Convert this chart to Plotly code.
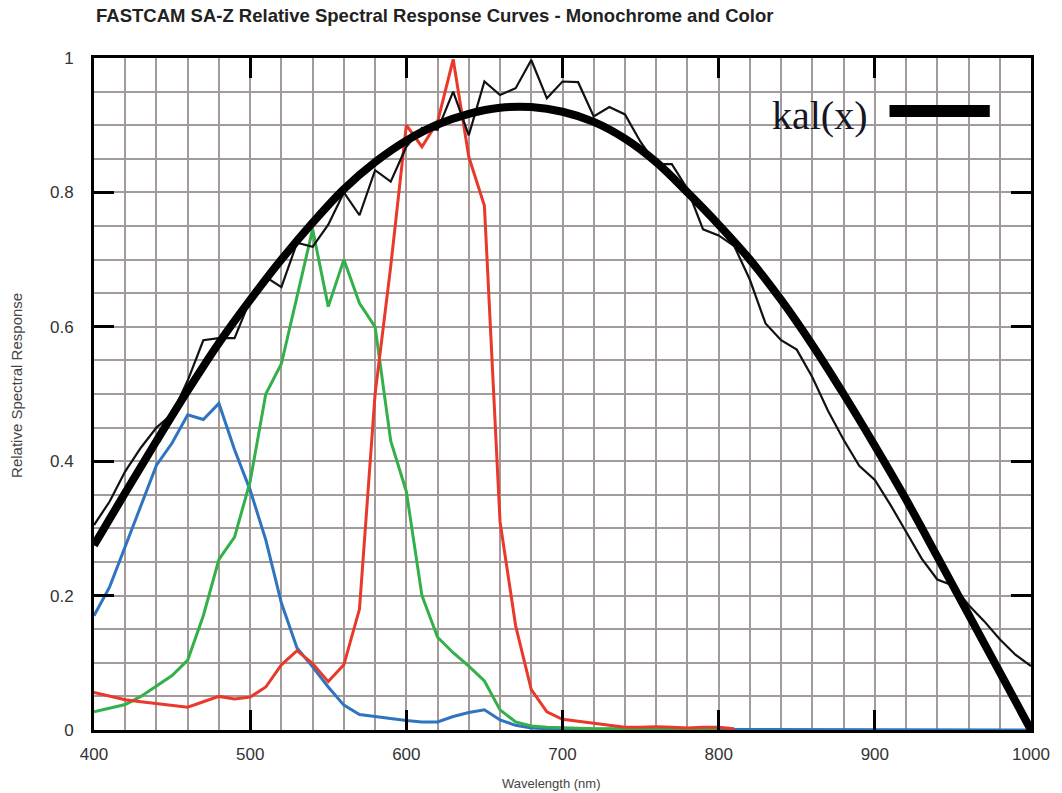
import plotly.graph_objects as go

# wavelength grid (nm)
wl = list(range(400, 1001, 10))
wl_fit = list(range(400, 1001, 20))

# monochrome response (thin black)
mono = [0.305, 0.34, 0.385, 0.42, 0.45, 0.47, 0.52, 0.58, 0.583, 0.583,
        0.64, 0.674, 0.659, 0.725, 0.719, 0.752, 0.80, 0.766, 0.833, 0.816,
        0.868, 0.896, 0.893, 0.95, 0.885, 0.965, 0.945, 0.955, 0.997, 0.94,
        0.965, 0.964, 0.913, 0.927, 0.916, 0.875, 0.842, 0.842, 0.805, 0.745,
        0.736, 0.72, 0.67, 0.605, 0.58, 0.566, 0.525, 0.475, 0.432, 0.393,
        0.372, 0.335, 0.295, 0.255, 0.224, 0.215, 0.186, 0.162, 0.135, 0.112,
        0.095]

# colour channels
blue = [0.17, 0.213, 0.273, 0.332, 0.394, 0.427, 0.469, 0.462, 0.486, 0.417,
        0.357, 0.283, 0.189, 0.122, 0.094, 0.064, 0.037, 0.023, 0.02, 0.016,
        0.014, 0.012, 0.012, 0.02, 0.026, 0.03, 0.015, 0.007, 0.003, 0.002,
        0.001, 0.001, 0.001, 0.001, 0.001, 0.001, 0.001, 0.001, 0.001, 0.001,
        0.001, 0, 0, 0, 0, 0, 0, 0, 0, 0,
        0, 0, 0, 0, 0, 0, 0, 0, 0, 0,
        0]
green = [0.027, 0.032, 0.038, 0.05, 0.066, 0.081, 0.104, 0.17, 0.254, 0.287,
         0.37, 0.50, 0.545, 0.645, 0.745, 0.63, 0.70, 0.635, 0.60, 0.43,
         0.355, 0.20, 0.138, 0.115, 0.095, 0.073, 0.03, 0.012, 0.006, 0.004,
         0.003, 0.003, 0.002, 0.002, 0.002, 0.002, 0.002, 0.002, 0.002, 0.002,
         0.002]
red = [0.056, 0.05, 0.045, 0.042, 0.039, 0.036, 0.034, 0.042, 0.05, 0.046,
       0.049, 0.064, 0.097, 0.118, 0.099, 0.072, 0.097, 0.18, 0.5, 0.69,
       0.90, 0.868, 0.905, 0.998, 0.853, 0.78, 0.31, 0.155, 0.06, 0.027,
       0.016, 0.013, 0.01, 0.006, 0.004, 0.004, 0.005, 0.004, 0.003, 0.004,
       0.004, 0.002]

# kal(x) fitted curve (thick black)
kal = [0.275, 0.353, 0.430, 0.505, 0.576, 0.640, 0.700, 0.755, 0.805, 0.845,
       0.877, 0.901, 0.917, 0.926, 0.927, 0.920, 0.905, 0.880, 0.845, 0.800,
       0.752, 0.700, 0.640, 0.573, 0.500, 0.423, 0.343, 0.258, 0.172, 0.086,
       0.0]

grid = "#a39a9a"
font = "Liberation Sans, Arial, sans-serif"

fig = go.Figure()
fig.add_trace(go.Scatter(x=wl[:len(blue)], y=blue, mode="lines",
                         line=dict(color="#2f74bf", width=3)))
fig.add_trace(go.Scatter(x=wl[:len(green)], y=green, mode="lines",
                         line=dict(color="#33b04a", width=3)))
fig.add_trace(go.Scatter(x=wl[:len(red)], y=red, mode="lines",
                         line=dict(color="#e8392a", width=3)))
fig.add_trace(go.Scatter(x=wl, y=mono, mode="lines",
                         line=dict(color="#111111", width=2.2)))
fig.add_trace(go.Scatter(x=wl_fit, y=kal, mode="lines", line_shape="spline",
                         line=dict(color="black", width=8)))

axis_common = dict(
    ticks="inside", ticklen=20, tickwidth=3, tickcolor="black",
    showline=True, linewidth=3, linecolor="black", mirror="ticks",
    showgrid=True, gridcolor=grid, gridwidth=1.5, zeroline=False,
    tickfont=dict(family=font, size=17, color="#333333"),
    ticklabeloverflow="allow",
)

fig.update_xaxes(range=[400, 1000], tick0=400, dtick=100,
                 minor=dict(dtick=20, showgrid=True, gridcolor=grid, gridwidth=1.5),
                 ticklabelstandoff=7, **axis_common)
fig.update_yaxes(range=[0, 1], tick0=0, dtick=0.2,
                 minor=dict(dtick=0.05, showgrid=True, gridcolor=grid, gridwidth=1.5),
                 ticklabelstandoff=14, **axis_common)

# titles
fig.add_annotation(text="<b>FASTCAM SA-Z Relative Spectral Response Curves - Monochrome and Color</b>",
                   xref="paper", yref="paper", x=0, y=1, yshift=43, xanchor="left", yanchor="middle",
                   showarrow=False, font=dict(family=font, size=18.5, color="#222222"))
fig.add_annotation(text="Wavelength (nm)", xref="paper", yref="paper", x=0.488, y=0, yshift=-53,
                   xanchor="center", yanchor="middle", showarrow=False,
                   font=dict(family=font, size=13, color="#444444"))
fig.add_annotation(text="Relative Spectral Response", xref="paper", yref="paper", x=0, xshift=-77,
                   y=0.512, textangle=-90, xanchor="center", yanchor="middle", showarrow=False,
                   font=dict(family=font, size=15, color="#444444"))

# kal(x) legend
fig.add_annotation(text="kal(x)", xref="paper", yref="paper", x=0.828, y=0.915,
                   xanchor="right", yanchor="middle", showarrow=False,
                   font=dict(family="Liberation Serif, Times New Roman, serif", size=40, color="#151525"))
fig.add_shape(type="line", xref="paper", yref="paper", x0=0.849, x1=0.956, y0=0.921, y1=0.921,
              line=dict(color="black", width=12))

fig.update_layout(width=1062, height=793, showlegend=False,
                  margin=dict(l=94, r=21, t=58, b=63),
                  paper_bgcolor="white", plot_bgcolor="white")

# drop the default page margin so the figure fills the window exactly
fig.write_html("out.html", config={"displayModeBar": False},
               post_script="document.body.style.margin='0';")
